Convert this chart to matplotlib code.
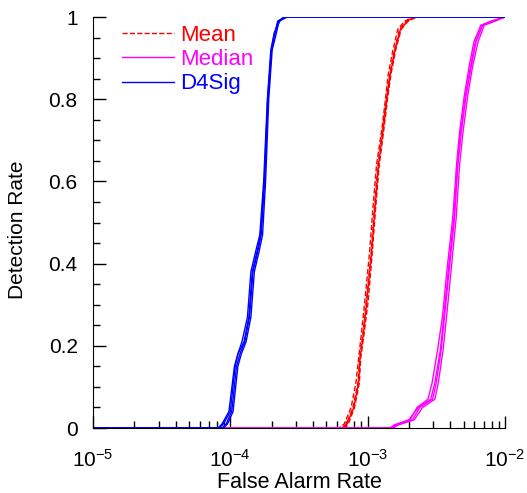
#!/usr/bin/env python3
# -*- coding: utf-8 -*-

import numpy as np
import matplotlib
matplotlib.use('Agg')
from matplotlib import pyplot as plt
from matplotlib import ticker

plt.rcParams['font.family'] = ['Liberation Sans', 'DejaVu Sans']
plt.rcParams['mathtext.fontset'] = 'custom'
plt.rcParams['mathtext.rm'] = 'Liberation Sans'
plt.rcParams['mathtext.it'] = 'Liberation Sans'

# detection-rate levels per method, false-alarm rate (log10) per run
MEAN_DET = [0, 0, 0.01, 0.05, 0.11, 0.17, 0.23, 0.31, 0.43, 0.54, 0.64,
            0.73, 0.80, 0.86, 0.92, 0.97, 0.99, 1.0, 1.0]
MEAN_RUNS = [
    [-5, -3.19, -3.155, -3.107, -3.07, -3.058, -3.034, -3.009, -2.973, -2.949,
     -2.925, -2.889, -2.864, -2.84, -2.804, -2.767, -2.718, -2.658, -2],
    [-5, -3.21, -3.17, -3.12, -3.085, -3.065, -3.045, -3.02, -2.985, -2.96,
     -2.935, -2.895, -2.87, -2.85, -2.815, -2.78, -2.73, -2.67, -2],
    [-5, -3.17, -3.14, -3.095, -3.06, -3.05, -3.025, -2.995, -2.965, -2.94,
     -2.915, -2.88, -2.855, -2.83, -2.795, -2.755, -2.705, -2.64, -2],
    [-5, -3.18, -3.15, -3.10, -3.065, -3.055, -3.03, -3.005, -2.97, -2.945,
     -2.92, -2.885, -2.86, -2.835, -2.80, -2.76, -2.71, -2.66, -2],
]
MEAN_STYLE = ['--', '--', '--', '-']

MED_DET = [0, 0, 0.007, 0.02, 0.05, 0.07, 0.11, 0.19, 0.27, 0.39, 0.51,
           0.64, 0.72, 0.81, 0.88, 0.94, 0.98, 0.99, 1.0]
MED_RUNS = [
    [-5, -2.82, -2.79, -2.673, -2.62, -2.527, -2.50, -2.464, -2.44, -2.404,
     -2.367, -2.343, -2.318, -2.282, -2.245, -2.21, -2.161, -2.089, -2.0],
    [-5, -2.84, -2.80, -2.69, -2.64, -2.56, -2.53, -2.49, -2.455, -2.42,
     -2.38, -2.352, -2.33, -2.295, -2.26, -2.225, -2.175, -2.10, -2.0],
    [-5, -2.81, -2.78, -2.66, -2.60, -2.51, -2.485, -2.45, -2.425, -2.39,
     -2.355, -2.33, -2.305, -2.27, -2.235, -2.195, -2.15, -2.07, -2.0],
    [-5, -2.83, -2.81, -2.70, -2.63, -2.54, -2.51, -2.47, -2.445, -2.41,
     -2.372, -2.345, -2.322, -2.287, -2.25, -2.215, -2.165, -2.095, -2.0],
]

D4_DET = [0, 0, 0.01, 0.04, 0.15, 0.18, 0.21, 0.27, 0.38, 0.43, 0.47,
          0.60, 0.80, 0.92, 0.96, 0.99, 1.0, 1.0]
D4_RUNS = [
    [-5, -4.06, -4.03, -3.99, -3.955, -3.93, -3.895, -3.86, -3.835, -3.80,
     -3.775, -3.75, -3.725, -3.70, -3.675, -3.655, -3.59, -2],
    [-5, -4.08, -4.05, -4.00, -3.965, -3.945, -3.915, -3.875, -3.85, -3.815,
     -3.785, -3.757, -3.73, -3.705, -3.68, -3.64, -3.60, -2],
    [-5, -4.05, -4.02, -3.98, -3.945, -3.92, -3.885, -3.85, -3.825, -3.79,
     -3.765, -3.743, -3.72, -3.695, -3.665, -3.645, -3.585, -2],
    [-5, -4.09, -4.06, -4.01, -3.97, -3.945, -3.90, -3.865, -3.84, -3.805,
     -3.78, -3.752, -3.728, -3.70, -3.68, -3.65, -3.61, -2],
]

LABELS = ['Mean', 'Median', 'D4Sig']
COLORS = ['#ff0000', '#ff00ff', '#0000ff']
X_TICKS = [1e-5, 1e-4, 1e-3, 1e-2]
X_TICKLABELS = ['$10^{-5}$', '$10^{-4}$', '$10^{-3}$', '$10^{-2}$']
Y_TICKS = [0, 0.2, 0.4, 0.6, 0.8, 1]
Y_TICKLABELS = ['0', '0.2', '0.4', '0.6', '0.8', '1']

fig = plt.figure(figsize=(5.27, 4.93), dpi=100)
ax = fig.add_axes([0.1765, 0.1318, 0.7815, 0.8337])

for i, run in enumerate(MEAN_RUNS):
    ax.plot(10**np.array(run), MEAN_DET, color=COLORS[0], ls=MEAN_STYLE[i],
            lw=1.0, label=LABELS[0] if i == 0 else None)
for i, run in enumerate(MED_RUNS):
    ax.plot(10**np.array(run), MED_DET, color=COLORS[1], lw=1.0,
            label=LABELS[1] if i == 0 else None)
for i, run in enumerate(D4_RUNS):
    ax.plot(10**np.array(run), D4_DET, color=COLORS[2], lw=1.0,
            label=LABELS[2] if i == 0 else None)

ax.set_xscale('log')
ax.set_xlim(1e-5, 1e-2)
ax.set_ylim(0, 1)
ax.set_xticks(X_TICKS)
ax.set_xticklabels(X_TICKLABELS)
ax.xaxis.set_minor_locator(ticker.LogLocator(base=10, subs=np.arange(2, 10)))
ax.xaxis.set_minor_formatter(ticker.NullFormatter())
ax.set_yticks(Y_TICKS)
ax.set_yticklabels(Y_TICKLABELS)
ax.yaxis.set_minor_locator(ticker.MultipleLocator(0.05))

for side in ('top', 'right'):
    ax.spines[side].set_visible(False)
ax.tick_params(which='major', direction='in', length=9, width=1,
               labelsize=15)
ax.tick_params(which='minor', direction='in', length=5, width=1)
ax.tick_params(axis='x', which='major', pad=15)
ax.tick_params(axis='y', which='major', pad=11)

ax.set_xlabel('False Alarm Rate', fontsize=15.5, va='baseline')
ax.xaxis.set_label_coords(0.5, -0.145)
ax.set_ylabel('Detection Rate', fontsize=15)
ax.yaxis.set_label_coords(-0.16, 0.482)

leg = ax.legend(loc='upper left', frameon=False, fontsize=16,
                handlelength=2.3, handletextpad=0.3, labelspacing=0.15,
                borderaxespad=0.0, bbox_to_anchor=(0.05, 1.003))
for txt, c in zip(leg.get_texts(), COLORS):
    txt.set_color(c)

fig.savefig('out.png', dpi=100)
